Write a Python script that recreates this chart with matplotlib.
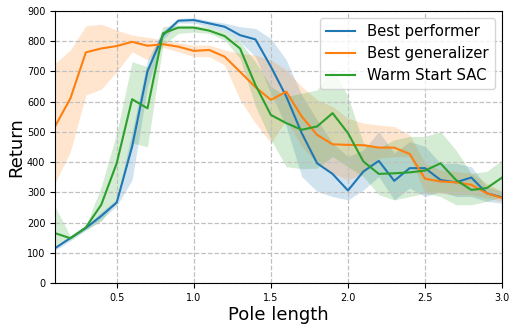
import numpy as np
import matplotlib
matplotlib.use('Agg')
import matplotlib.pyplot as plt

## pole lengths evaluated
pole_length = [0.1, 0.2, 0.3, 0.4, 0.5, 0.6, 0.7, 0.8, 0.9, 1.0,
               1.1, 1.2, 1.3, 1.4, 1.5, 1.6, 1.7, 1.8, 1.9, 2.0,
               2.1, 2.2, 2.3, 2.4, 2.5, 2.6, 2.7, 2.8, 2.9, 3.0]

## mean return and band limits
perf_mean = [115, 149, 182, 222, 266, 451, 701, 820, 868, 870,
             859, 848, 820, 806, 716, 617, 496, 396, 361, 306,
             369, 404, 338, 380, 380, 341, 333, 349, 297, 283]
perf_high = [120, 152, 187, 235, 277, 501, 738, 835, 875, 878,
             868, 860, 848, 842, 809, 738, 622, 540, 463, 418,
             440, 501, 430, 468, 452, 396, 396, 385, 319, 303]
perf_low = [108, 140, 175, 210, 255, 341, 650, 805, 860, 860,
            848, 832, 798, 749, 628, 518, 352, 303, 286, 275,
            308, 352, 275, 314, 286, 303, 286, 286, 270, 264]

gen_mean = [518, 611, 763, 776, 784, 798, 785, 790, 782, 768,
            771, 749, 699, 648, 606, 633, 551, 490, 459, 457,
            456, 448, 448, 427, 345, 336, 333, 325, 297, 281]
gen_high = [727, 771, 851, 856, 837, 820, 813, 804, 795, 787,
            787, 771, 760, 754, 738, 705, 650, 606, 584, 545,
            529, 523, 518, 490, 396, 374, 369, 363, 330, 303]
gen_low = [330, 435, 622, 641, 699, 765, 738, 780, 765, 749,
           749, 721, 606, 529, 463, 540, 452, 396, 363, 341,
           363, 413, 418, 418, 297, 297, 292, 292, 281, 270]

warm_mean = [165, 148, 184, 259, 396, 608, 578, 826, 845, 845,
             835, 817, 776, 655, 556, 529, 507, 518, 562, 496,
             402, 361, 363, 366, 372, 396, 341, 308, 314, 349]
warm_high = [253, 155, 190, 319, 496, 732, 716, 848, 853, 853,
             848, 832, 798, 732, 650, 617, 628, 639, 710, 617,
             463, 446, 474, 485, 485, 501, 440, 363, 369, 407]
warm_low = [121, 145, 176, 204, 275, 463, 451, 787, 826, 830,
            826, 804, 743, 584, 474, 385, 378, 380, 418, 385,
            352, 292, 275, 286, 297, 286, 259, 259, 270, 286]

series = [('Best performer', perf_mean, perf_low, perf_high, 'tab:blue'),
          ('Best generalizer', gen_mean, gen_low, gen_high, 'tab:orange'),
          ('Warm Start SAC', warm_mean, warm_low, warm_high, 'tab:green')]

fig = plt.figure(figsize=(5.16, 3.29), dpi=100)
ax = fig.add_axes([0.1066, 0.1398, 0.8666, 0.8268])

x = np.array(pole_length)
for name, mean, low, high, color in series:
    ax.plot(x, mean, color=color, lw=1.5, label=name)
    ax.fill_between(x, low, high, color=color, alpha=0.2, lw=0)

ax.set_xlim(0.1, 3.0)
ax.set_ylim(0, 900)
ax.set_xticks([0.5, 1.0, 1.5, 2.0, 2.5, 3.0])
ax.set_yticks(np.arange(0, 901, 100))
ax.tick_params(labelsize=7)
ax.grid(True, linestyle='--', color='#c0c0c0', lw=0.9)
ax.set_xlabel('Pole length', fontsize=13, labelpad=2)
ax.set_ylabel('Return', fontsize=13, labelpad=1)
ax.legend(loc='upper right', fontsize=10.7, handlelength=2.0,
          borderaxespad=0.5, labelspacing=0.45)

fig.savefig('out.png', dpi=100)
